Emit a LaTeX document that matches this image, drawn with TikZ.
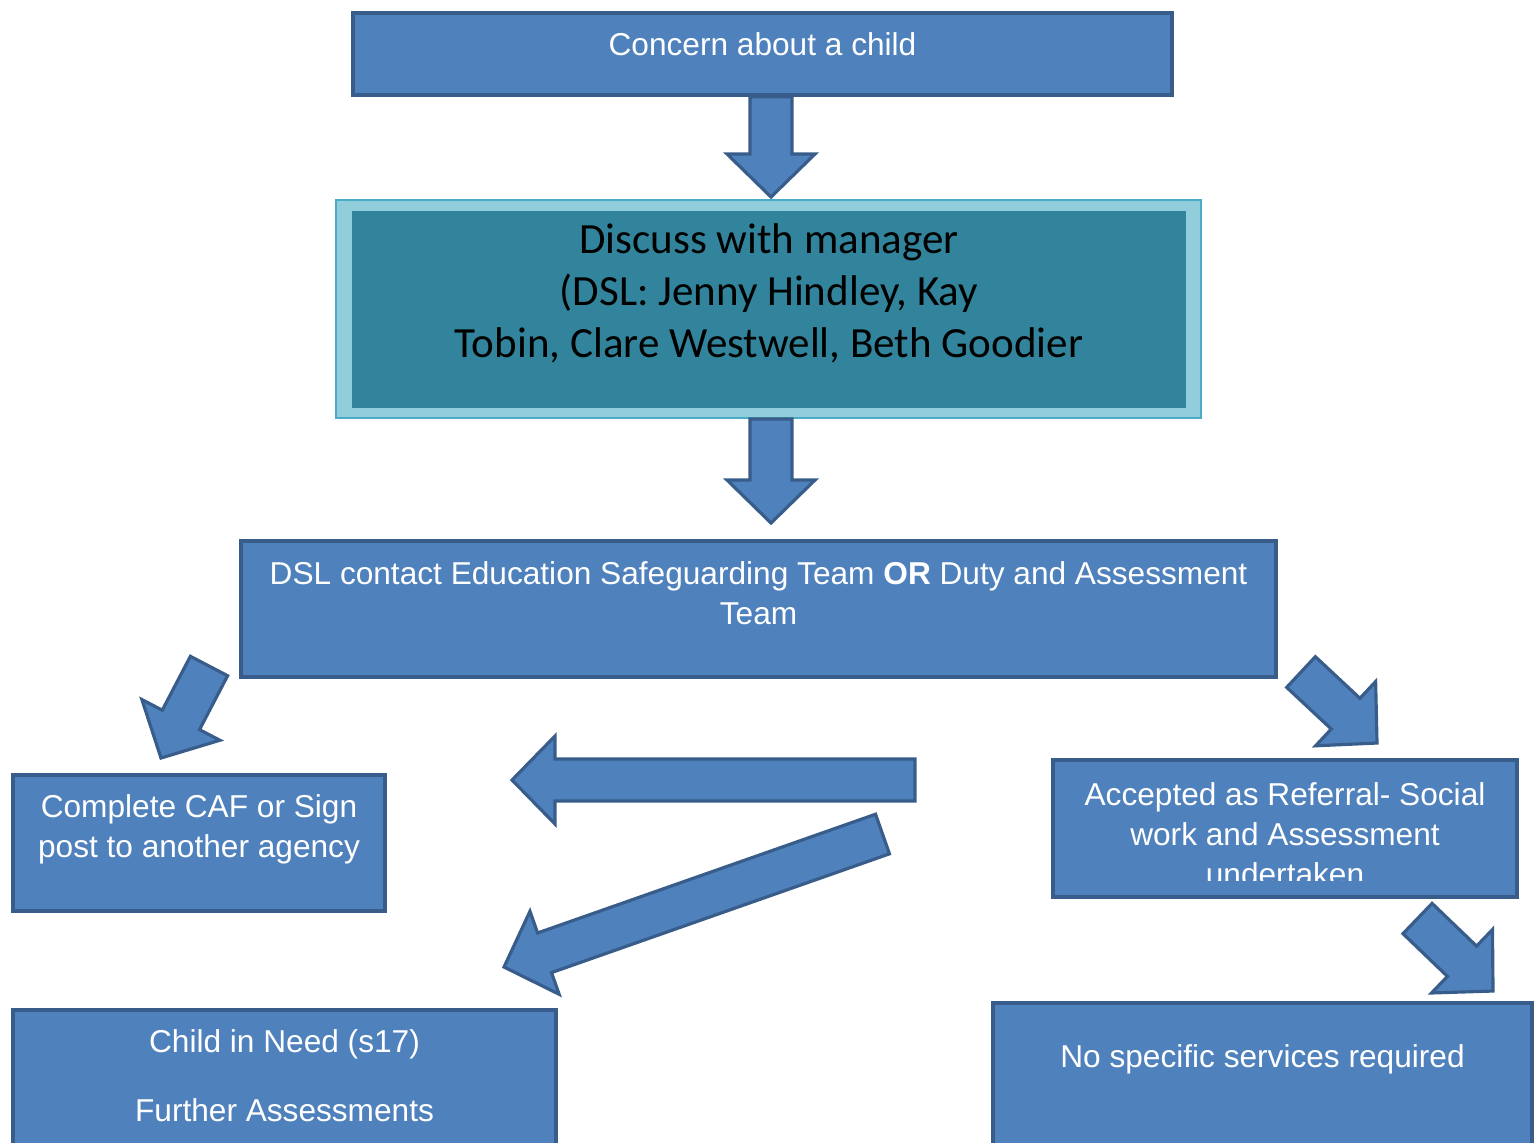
\documentclass[tikz,border=0pt]{standalone}
\usepackage{fontspec}
\newfontfamily\arialfont{Liberation Sans}
\newfontfamily\calibrifont{Carlito}
\usetikzlibrary{calc}

\definecolor{boxblue}{HTML}{4F81BD}
\definecolor{edgeblue}{HTML}{385D8A}
\definecolor{tealfill}{HTML}{31849B}
\definecolor{ringblue}{HTML}{92CDDC}
\definecolor{ringedge}{HTML}{4BACC6}

% block arrow from tail #1 to tip #2
\newcommand{\fatarrow}[2]{%
  \coordinate (fa-base) at ($(#2)!0.43cm!(#1)$);
  \draw[fatarrowline] ($(#1)!0.21cm!90:(#2)$) -- ($(fa-base)!0.21cm!90:(#2)$)
    -- ($(fa-base)!0.44cm!90:(#2)$) -- (#2) -- ($(fa-base)!0.44cm!-90:(#2)$)
    -- ($(fa-base)!0.21cm!-90:(#2)$) -- ($(#1)!0.21cm!-90:(#2)$) -- cycle;}

\begin{document}
\begin{tikzpicture}
\tikzset{bluebox/.style={draw=edgeblue, fill=boxblue, line width=1pt, inner sep=0pt},
  boxtext/.style={text=white, align=center, inner sep=0pt, font=\arialfont\fontsize{9}{11.4}\selectfont},
  fatarrowline/.style={draw=edgeblue, fill=boxblue, line width=0.9pt, line join=miter}}
\clip (0,0) rectangle (15.37,-11.42);
% boxes
\node[bluebox, minimum width=8.19cm, minimum height=0.82cm] (concern) at (7.625,-0.54) {};
\node[draw=ringedge, fill=ringblue, line width=0.6pt, minimum width=8.65cm, minimum height=2.18cm] (discuss) at (7.685,-3.09) {};
\node[fill=tealfill, minimum width=8.34cm, minimum height=1.97cm] (discussin) at (7.69,-3.095) {};
\node[bluebox, minimum width=10.35cm, minimum height=1.36cm] (dsl) at (7.585,-6.09) {};
\node[bluebox, minimum width=3.72cm, minimum height=1.36cm] (caf) at (1.99,-8.43) {};
\node[bluebox, minimum width=4.64cm, minimum height=1.37cm] (accepted) at (12.85,-8.285) {};
\node[bluebox, minimum width=5.39cm, minimum height=1.60cm] (nospec) at (12.625,-10.83) {};
\node[bluebox, minimum width=5.43cm, minimum height=1.60cm] (need) at (2.845,-10.90) {};
% texts
\node[boxtext] (concerntxt) at ([yshift=-0.33cm]concern.north) {Concern about a child};
\node[align=center, inner sep=0pt, font=\calibrifont\fontsize{12.25}{14.8}\selectfont] (discusstxt) at (7.69,-2.93)
  {Discuss with manager\\(DSL: Jenny Hindley, Kay\\Tobin, Clare Westwell, Beth Goodier};
\node[boxtext] (dsltxt) at ([yshift=-0.54cm]dsl.north) {DSL contact Education Safeguarding Team \textbf{OR} Duty and Assessment\\Team};
\node[boxtext] (caftxt) at ([yshift=-0.56cm]caf.north) {Complete CAF or Sign\\post to another agency};
\begin{scope}
\clip (accepted.north west) rectangle ([yshift=0.18cm]accepted.south east);
\node[boxtext] (acceptedtxt) at ([yshift=-0.76cm]accepted.north) {Accepted as Referral- Social\\work and Assessment\\undertaken};
\end{scope}
\node[boxtext] (nospectxt) at ([yshift=-0.58cm]nospec.north) {No specific services required};
\node[boxtext] (needtxt) at ([yshift=-0.67cm]need.north) {Child in Need (s17)\\[0.29cm]Further Assessments};
% arrows
\coordinate (t1) at ([xshift=0.085cm]concern.south);
\coordinate (h1) at (7.71,-1.97);
\coordinate (t2) at ([xshift=0.025cm]discuss.south);
\coordinate (h2) at (7.71,-5.23);
\coordinate (t3) at (2.09,-6.66);
\coordinate (h3) at (1.61,-7.58);
\coordinate (t4) at (13.01,-6.72);
\coordinate (h4) at (13.77,-7.43);
\coordinate (t5) at (14.175,-9.185);
\coordinate (h5) at (14.93,-9.91);
\coordinate (t6) at (9.15,-7.80);
\coordinate (h6) at (5.12,-7.80);
\coordinate (t7) at (8.825,-8.34);
\coordinate (h7) at (5.04,-9.67);
\fatarrow{t1}{h1}
\fatarrow{t2}{h2}
\fatarrow{t3}{h3}
\fatarrow{t4}{h4}
\fatarrow{t5}{h5}
\fatarrow{t6}{h6}
\fatarrow{t7}{h7}
\end{tikzpicture}
\end{document}
